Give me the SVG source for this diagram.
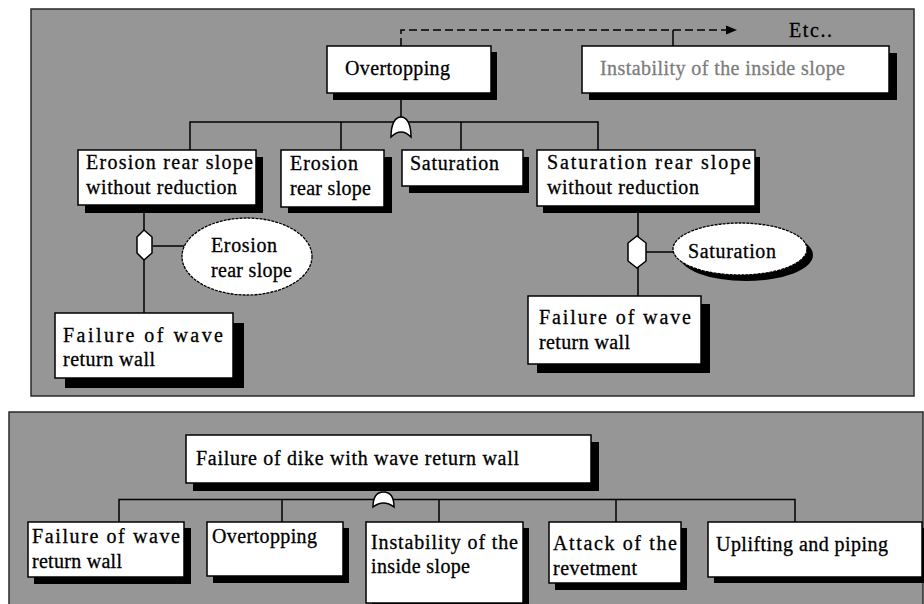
<svg xmlns="http://www.w3.org/2000/svg" width="924" height="604" viewBox="0 0 924 604">
<defs>
<style>
.panel{fill:#969696;stroke:#2a2a2a;stroke-width:1.5}
.box{fill:#fff;stroke:#000;stroke-width:1.5}
.sh{fill:#000}
.ln{fill:none;stroke:#000;stroke-width:1.5}
.dash{fill:none;stroke:#000;stroke-width:1.5;stroke-dasharray:8 4}
.gate{fill:#fff;stroke:#000;stroke-width:1.5}
.ell{fill:#fff;stroke:#000;stroke-width:1.3;stroke-dasharray:3 1}
.t{font-size:20px;fill:#000;stroke:#000;stroke-width:0.3}
.grey{fill:#7c7c7c;stroke:#7c7c7c}
</style>
</defs>
<rect width="924" height="604" fill="#fff"/>
<rect class="panel" x="31" y="9" width="883" height="387"/>
<rect class="panel" x="9" y="412" width="914" height="200"/>

<g id="connectors">
<path class="dash" d="M401,46 V30 H728"/>
<polygon points="726,25.5 737,30 726,34.5" fill="#000"/>
<path class="ln" d="M673,30 V46"/>
<path class="ln" d="M401,100 V118"/>
<path class="ln" d="M190,150 V122 H598 V150 M341,122 V150 M461,122 V150"/>
<path class="gate" d="M391,137 C391,124 395,117 401,117 C407,117 411,124 411,137 Q401,127 391,137 Z"/>
<path class="ln" d="M144,213 V313 M153,246 H184"/>
<polygon class="gate" points="144,230 152,237 152,253 144,260 137,253 137,237"/>
<path class="ln" d="M638,213 V296 M646,252 H673"/>
<polygon class="gate" points="637,236 646,243 646,261 637,268 628,261 628,243"/>
<path class="ln" d="M119,522 V499.5 H795 V522 M282,499.5 V522 M439,499.5 V522 M616,499.5 V522"/>
<path class="gate" d="M373,507 C373,497 377,492 383.5,492 C390,492 394,497 394,507 Q383.5,499 373,507 Z"/>
</g>

<g id="etc"><text class="t" font-family="Liberation Serif" x="789" y="37" textLength="43">Etc..</text></g>

<g id="overtopping">
<rect class="sh" x="333" y="52" width="164" height="48"/>
<rect class="box" x="327" y="46" width="164" height="47"/>
<text class="t" font-family="Liberation Serif" x="345" y="75" textLength="105">Overtopping</text>
</g>

<g id="instability-top">
<rect class="sh" x="589" y="53" width="308" height="47"/>
<rect class="box" x="582" y="46" width="307" height="47"/>
<text class="t grey" font-family="Liberation Serif" x="600" y="75" textLength="245">Instability of the inside slope</text>
</g>

<g id="erosion-rear-slope-without-reduction">
<rect class="sh" x="85" y="157" width="178" height="56"/>
<rect class="box" x="78" y="150" width="178" height="55"/>
<text class="t" font-family="Liberation Serif" x="86" y="169" textLength="167">Erosion rear slope</text>
<text class="t" font-family="Liberation Serif" x="86" y="194" textLength="151">without reduction</text>
</g>

<g id="erosion-rear-slope">
<rect class="sh" x="288" y="157" width="104" height="56"/>
<rect class="box" x="281" y="150" width="103" height="57"/>
<text class="t" font-family="Liberation Serif" x="290" y="170" textLength="68">Erosion</text>
<text class="t" font-family="Liberation Serif" x="290" y="195" textLength="81">rear slope</text>
</g>

<g id="saturation">
<rect class="sh" x="409" y="157" width="120" height="36"/>
<rect class="box" x="402" y="150" width="121" height="36"/>
<text class="t" font-family="Liberation Serif" x="410" y="170" textLength="89">Saturation</text>
</g>

<g id="saturation-rear-slope-without-reduction">
<rect class="sh" x="543" y="157" width="217" height="56"/>
<rect class="box" x="537" y="150" width="218" height="56"/>
<text class="t" font-family="Liberation Serif" x="547" y="169" textLength="204">Saturation rear slope</text>
<text class="t" font-family="Liberation Serif" x="547" y="194" textLength="152">without reduction</text>
</g>

<g id="erosion-condition">
<ellipse class="ell" cx="247" cy="256.5" rx="65" ry="38.5"/>
<text class="t" font-family="Liberation Serif" x="211" y="252" textLength="66">Erosion</text>
<text class="t" font-family="Liberation Serif" x="211" y="277" textLength="81">rear slope</text>
</g>

<g id="saturation-condition">
<ellipse cx="746" cy="255" rx="67" ry="26" fill="#000"/>
<ellipse class="ell" cx="740" cy="249" rx="67" ry="26"/>
<text class="t" font-family="Liberation Serif" x="688" y="258" textLength="88">Saturation</text>
</g>

<g id="failure-wall-1">
<rect class="sh" x="65" y="323" width="179" height="65"/>
<rect class="box" x="55" y="313" width="178" height="65"/>
<text class="t" font-family="Liberation Serif" x="63" y="342" textLength="160">Failure of wave</text>
<text class="t" font-family="Liberation Serif" x="63" y="366" textLength="92">return wall</text>
</g>

<g id="failure-wall-2">
<rect class="sh" x="537" y="304" width="173" height="69"/>
<rect class="box" x="528" y="296" width="173" height="68"/>
<text class="t" font-family="Liberation Serif" x="539" y="324" textLength="152">Failure of wave</text>
<text class="t" font-family="Liberation Serif" x="539" y="349" textLength="91">return wall</text>
</g>

<g id="failure-dike">
<rect class="sh" x="193" y="442" width="406" height="49"/>
<rect class="box" x="186" y="435" width="405" height="48"/>
<text class="t" font-family="Liberation Serif" x="196" y="465" textLength="323">Failure of dike with wave return wall</text>
</g>

<g id="b-failure-wall">
<rect class="sh" x="34" y="528" width="157" height="56"/>
<rect class="box" x="28" y="522" width="156" height="55"/>
<text class="t" font-family="Liberation Serif" x="32" y="543" textLength="148">Failure of wave</text>
<text class="t" font-family="Liberation Serif" x="32" y="568" textLength="90">return wall</text>
</g>

<g id="b-overtopping">
<rect class="sh" x="213" y="528" width="136" height="55"/>
<rect class="box" x="207" y="522" width="136" height="54"/>
<text class="t" font-family="Liberation Serif" x="212" y="543" textLength="105">Overtopping</text>
</g>

<g id="b-instability">
<rect class="sh" x="372" y="528" width="157" height="82"/>
<rect class="box" x="366" y="522" width="157" height="81"/>
<text class="t" font-family="Liberation Serif" x="371" y="549" textLength="147">Instability of the</text>
<text class="t" font-family="Liberation Serif" x="371" y="573" textLength="99">inside slope</text>
</g>

<g id="b-attack">
<rect class="sh" x="555" y="528" width="132" height="62"/>
<rect class="box" x="549" y="522" width="132" height="61"/>
<text class="t" font-family="Liberation Serif" x="553" y="550" textLength="124">Attack of the</text>
<text class="t" font-family="Liberation Serif" x="553" y="575" textLength="84">revetment</text>
</g>

<g id="b-uplifting">
<rect class="sh" x="714" y="528" width="215" height="55"/>
<rect class="box" x="708" y="522" width="214" height="55"/>
<text class="t" font-family="Liberation Serif" x="716" y="551" textLength="172">Uplifting and piping</text>
</g>
</svg>
